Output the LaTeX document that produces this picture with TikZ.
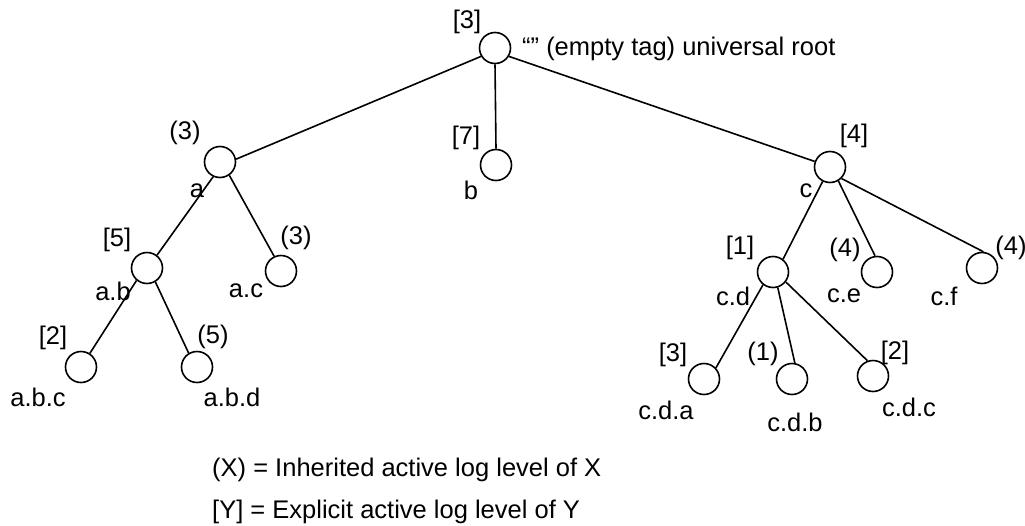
\documentclass[tikz,border=0pt]{standalone}
\usepackage{fontspec}
\setmainfont{Liberation Sans}
\begin{document}
\begin{tikzpicture}[x=1pt,y=-1pt,
  tnode/.style={circle,draw,line width=1.6pt,minimum size=31pt,inner sep=0pt},
  lbl/.style={inner sep=0pt,font=\fontsize{25.5}{30}\selectfont},
  edge/.style={line width=1.6pt}]
\useasboundingbox (0,0) rectangle (1025,525);
% tree nodes
\node[tnode] (root) at (495,48) {};
\node[tnode] (a) at (220,162) {};
\node[tnode] (b) at (496,165) {};
\node[tnode] (c) at (830,167) {};
\node[tnode] (ab) at (147,268) {};
\node[tnode] (ac) at (281,271) {};
\node[tnode] (abc) at (81,367) {};
\node[tnode] (abd) at (197,367) {};
\node[tnode] (cd) at (773,272) {};
\node[tnode] (ce) at (877,272) {};
\node[tnode] (cf) at (982,268) {};
\node[tnode] (cda) at (704,379) {};
\node[tnode] (cdb) at (792,379) {};
\node[tnode] (cdc) at (873,376) {};
% edges
\draw[edge] (root.211) -- (a.10);
\draw[edge] (root.south) -- (b.north);
\draw[edge] (root.-31) -- (c.160);
\draw[edge] (a.-115) -- (ab.52);
\draw[edge] (a.-55) -- (ac.115);
\draw[edge] (ab.-130) -- (abc.57);
\draw[edge] (ab.-59) -- (abd.121);
\draw[edge] (c.-117) -- (cd.52);
\draw[edge] (c.-59) -- (ce.97);
\draw[edge] (c.-45) -- (cf.85);
\draw[edge] (cd.-128) -- (cda.43);
\draw[edge] (cd.-73) -- (cdb.80);
\draw[edge] (cd.-38) -- (cdc.110);
% labels
\node[lbl] (l-root) at (467,22) {[3]};
\node[lbl,anchor=west] (t-root) at (522,49) {“” (empty tag) universal root};
\node[lbl] (l-a) at (185,133) {(3)};
\node[lbl] (t-a) at (197,191) {a};
\node[lbl] (l-b) at (466,138) {[7]};
\node[lbl] (t-b) at (471,190) {b};
\node[lbl] (l-c) at (854,136) {[4]};
\node[lbl] (t-c) at (806,191) {c};
\node[lbl] (l-ab) at (117,240) {[5]};
\node[lbl] (t-ab) at (113,291) {a.b};
\node[lbl] (l-ac) at (296,238) {(3)};
\node[lbl] (t-ac) at (246,291) {a.c};
\node[lbl] (l-abc) at (53,338) {[2]};
\node[lbl] (t-abc) at (38,397) {a.b.c};
\node[lbl] (l-abd) at (213,337) {(5)};
\node[lbl] (t-abd) at (232,397) {a.b.d};
\node[lbl] (l-cd) at (740,248) {[1]};
\node[lbl] (t-cd) at (733,296) {c.d};
\node[lbl] (l-ce) at (845,250) {(4)};
\node[lbl] (t-ce) at (844,296) {c.e};
\node[lbl] (l-cf) at (1011,248) {(4)};
\node[lbl] (t-cf) at (944,296) {c.f};
\node[lbl] (l-cda) at (673,355) {[3]};
\node[lbl] (t-cda) at (666,410) {c.d.a};
\node[lbl] (l-cdb) at (763,354) {(1)};
\node[lbl] (t-cdb) at (795,422) {c.d.b};
\node[lbl] (l-cdc) at (895,353) {[2]};
\node[lbl] (t-cdc) at (909,407) {c.d.c};
% legend
\node[lbl,anchor=west] (leg1) at (212,470) {(X) = Inherited active log level of X};
\node[lbl,anchor=west] (leg2) at (212,512) {[Y] = Explicit active log level of Y};
\end{tikzpicture}
\end{document}
